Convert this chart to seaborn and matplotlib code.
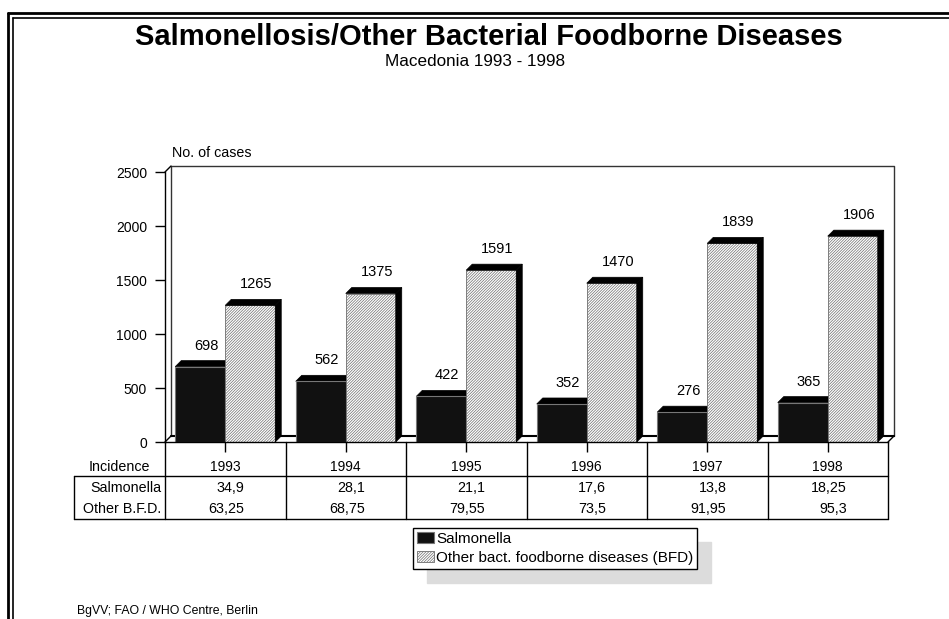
import numpy as np
import pandas as pd
import seaborn as sns
import matplotlib.pyplot as plt
from matplotlib.patches import Polygon
from matplotlib.lines import Line2D
import matplotlib.transforms as mtransforms

# 数据
years = ['1993', '1994', '1995', '1996', '1997', '1998']
series_names = ['Salmonella', 'Other bact. foodborne diseases (BFD)']
salmonella_cases = [698, 562, 422, 352, 276, 365]
other_cases = [1265, 1375, 1591, 1470, 1839, 1906]
salmonella_incidence = ['34,9', '28,1', '21,1', '17,6', '13,8', '18,25']
other_incidence = ['63,25', '68,75', '79,55', '73,5', '91,95', '95,3']

df = pd.DataFrame({
    'year': years * 2,
    'series': [series_names[0]] * len(years) + [series_names[1]] * len(years),
    'cases': salmonella_cases + other_cases,
})

sns.set_style('white')
plt.rcParams['font.family'] = ['Liberation Sans', 'DejaVu Sans']
plt.rcParams['hatch.linewidth'] = 0.5
plt.rcParams['text.color'] = 'black'
plt.rcParams['xtick.color'] = 'black'
plt.rcParams['ytick.color'] = 'black'
plt.rcParams['axes.labelcolor'] = 'black'

W, H = 949, 619
fig = plt.figure(figsize=(W / 100, H / 100), dpi=100)

# 坐标轴位置（像素）
ax_l, ax_r, ax_b, ax_t = 165, 888, 442, 172
ax = fig.add_axes([ax_l / W, 1 - ax_b / H, (ax_r - ax_l) / W, (ax_b - ax_t) / H])

sns.barplot(data=df, x='year', y='cases', hue='series', palette=['#111111', 'white'],
            width=100 / 120.5, gap=0, saturation=1, ax=ax, zorder=2)

ymax = 2500
ax.set_xlim(-0.5, len(years) - 0.5)
ax.set_ylim(0, ymax)
ax.legend_.remove()

# 3D 深度
px_x = (ax_r - ax_l) / len(years)
px_y = (ax_b - ax_t) / ymax
dx = 6 / px_x
dy = 6 / px_y

for bar in ax.containers[0]:
    bar.set_edgecolor('#777777')
    bar.set_linewidth(0.8)
for bar in ax.containers[1]:
    bar.set_hatch('////////////')
    bar.set_edgecolor('#6e6e6e')
    bar.set_linewidth(0.6)

for k, cont in enumerate(ax.containers):
    for bar in cont:
        x0, w, h = bar.get_x(), bar.get_width(), bar.get_height()
        top = Polygon([(x0, h), (x0 + dx, h + dy), (x0 + w + dx, h + dy), (x0 + w, h)],
                      closed=True, facecolor='black', edgecolor='black', lw=0.5,
                      zorder=1.5 if k == 0 else 2.5, clip_on=False)
        ax.add_patch(top)
        if k == 1:
            side = Polygon([(x0 + w, 0), (x0 + w + dx, dy), (x0 + w + dx, h + dy), (x0 + w, h)],
                           closed=True, facecolor='black', edgecolor='black', lw=0.5,
                           zorder=2.5, clip_on=False)
            ax.add_patch(side)
        ax.annotate(f'{int(h)}', xy=(x0 + w / 2, h), xytext=(6 * 0.72, 14 * 0.72),
                    textcoords='offset points', ha='center', va='bottom', fontsize=10.5)

# 背墙和地板
xl, xr = -0.5, len(years) - 0.5
wall = dict(color='#333333', lw=1, clip_on=False, zorder=1)
ax.plot([xl + dx, xl + dx, xr + dx, xr + dx], [dy, ymax + dy, ymax + dy, dy], **wall)
ax.plot([xl + dx, xr + dx], [dy, dy], color='black', lw=1.5, clip_on=False, zorder=1)
ax.plot([xl, xl + dx], [0, dy], color='black', lw=1, clip_on=False, zorder=1)
ax.plot([xr, xr + dx], [0, dy], color='black', lw=1, clip_on=False, zorder=1)
ax.plot([xl, xl + dx], [ymax, ymax + dy], color='black', lw=1, clip_on=False, zorder=1)

for s in ['top', 'right']:
    ax.spines[s].set_visible(False)
for s in ['left', 'bottom']:
    ax.spines[s].set_color('black')
    ax.spines[s].set_linewidth(1)
    ax.spines[s].set_zorder(3)

ax.set_yticks(range(0, ymax + 1, 500))
ax.tick_params(axis='y', left=True, length=7, width=1, color='black', labelsize=10, pad=6)
ax.tick_params(axis='x', bottom=True, length=7, width=1, color='black', labelsize=10, pad=6)
ax.set_xlabel('')
ax.set_ylabel('')
ax.text(172 / W, 1 - 153 / H, 'No. of cases', transform=fig.transFigure,
        ha='left', va='center', fontsize=10.3)

# 表格
def ay(ypx):
    return (ax_b - ypx) / (ax_b - ax_t)

def axx(xpx):
    return (xpx - ax_l) / (ax_r - ax_l)

blend = mtransforms.blended_transform_factory(ax.transData, ax.transAxes)
line_kw = dict(color='black', lw=1, clip_on=False)
for i in range(len(years) + 1):
    ax.plot([i - 0.5, i - 0.5], [0, ay(519)], transform=blend, **line_kw)
ax.plot([axx(74), 1], [ay(476), ay(476)], transform=ax.transAxes, **line_kw)
ax.plot([axx(74), 1], [ay(519), ay(519)], transform=ax.transAxes, **line_kw)
ax.plot([axx(74), axx(74)], [ay(476), ay(519)], transform=ax.transAxes, **line_kw)

ax.text(axx(119), ay(467), 'Incidence', transform=ax.transAxes, ha='center', va='center', fontsize=10.3)
ax.text(axx(161), ay(488), 'Salmonella', transform=ax.transAxes, ha='right', va='center', fontsize=10.3)
ax.text(axx(161), ay(509), 'Other B.F.D.', transform=ax.transAxes, ha='right', va='center', fontsize=10.3)
off = 19 / px_x
for i in range(len(years)):
    ax.text(i + off, ay(488), salmonella_incidence[i], transform=blend, ha='right', va='center', fontsize=10.3)
    ax.text(i + off, ay(509), other_incidence[i], transform=blend, ha='right', va='center', fontsize=10.3)

# 图例
handles = [ax.containers[0][0], ax.containers[1][0]]
fig.legend(handles, series_names, loc='upper left', bbox_to_anchor=(413 / W, 1 - 528 / H),
           fontsize=11, frameon=True, fancybox=False, edgecolor='black', framealpha=1,
           borderaxespad=0, borderpad=0.25, handlelength=1.1, handleheight=0.7,
           handletextpad=0.15, labelspacing=0.35,
           shadow={'ox': 10, 'oy': -10, 'color': '#dcdcdc', 'alpha': 1})

# 标题
fig.text(489 / W, 1 - 37 / H, 'Salmonellosis/Other Bacterial Foodborne Diseases',
         ha='center', va='center', fontsize=21, fontweight='bold')
fig.text(475 / W, 1 - 61 / H, 'Macedonia 1993 - 1998', ha='center', va='center', fontsize=12.3)
fig.text(77 / W, 1 - 611 / H, 'BgVV; FAO / WHO Centre, Berlin', ha='left', va='center', fontsize=8.8)

# 外框（双线）
for off_px, lw in [(8, 2), (13, 1.2)]:
    fig.add_artist(Line2D([off_px / W, off_px / W], [0, 1 - (off_px + 5) / H],
                          transform=fig.transFigure, color='black', lw=lw))
    fig.add_artist(Line2D([off_px / W, 1], [1 - (off_px + 5) / H, 1 - (off_px + 5) / H],
                          transform=fig.transFigure, color='black', lw=lw))

fig.savefig('out.png', dpi=100)
